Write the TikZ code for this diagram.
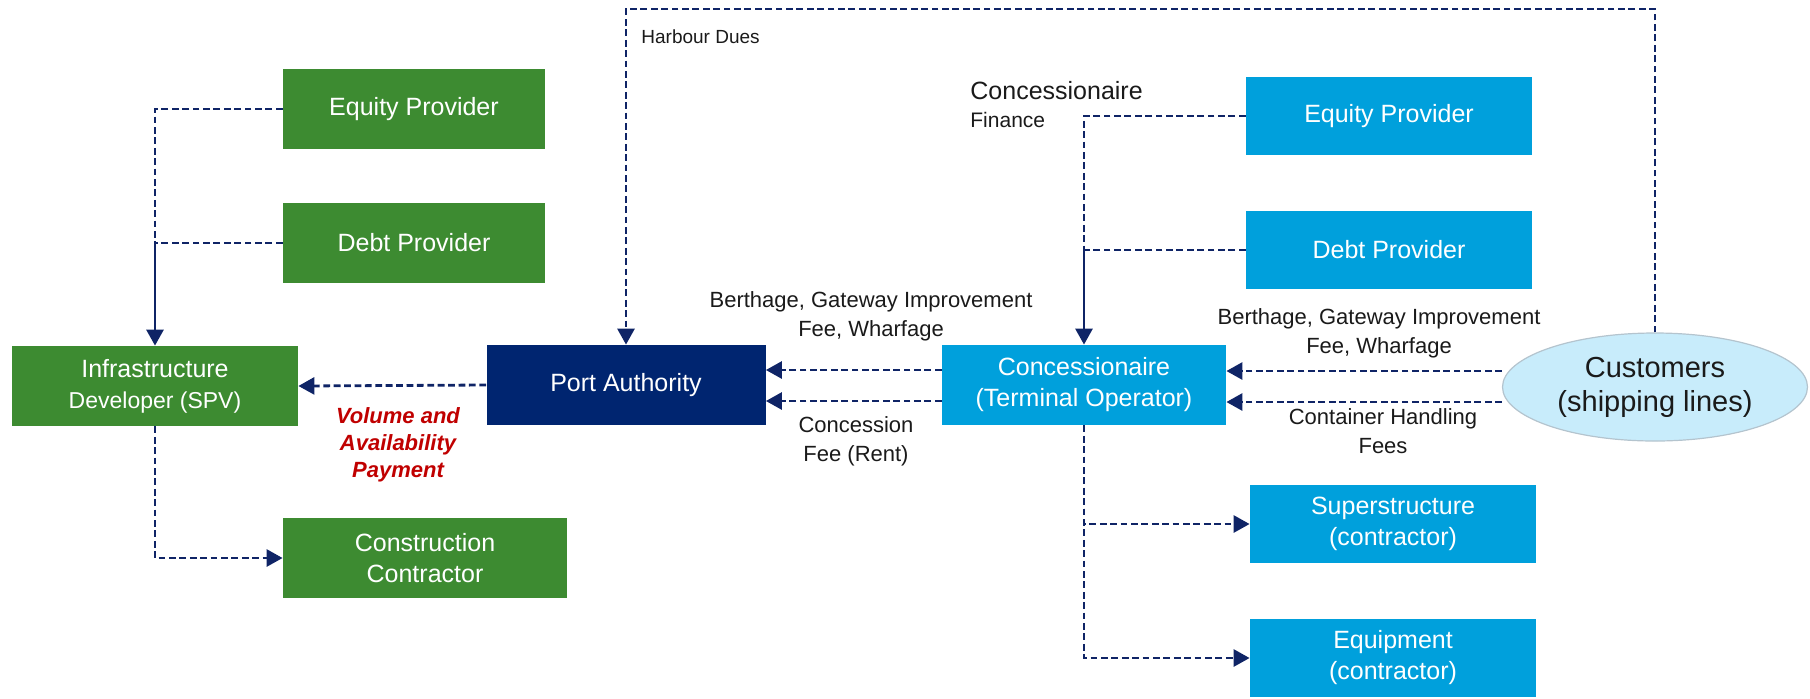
\documentclass[tikz,border=0pt]{standalone}
\usepackage{fontspec}
\setmainfont{Liberation Sans}
\usetikzlibrary{arrows.meta,calc,shapes.geometric}
\definecolor{pgreen}{HTML}{3D8B31}
\definecolor{pnavy}{HTML}{002570}
\definecolor{pblue}{HTML}{00A0DC}
\definecolor{pcust}{HTML}{C8ECFB}
\definecolor{pcustline}{HTML}{B4C4CE}
\definecolor{pline}{HTML}{0F2466}
\definecolor{pred}{HTML}{C00000}
\definecolor{ptext}{HTML}{1A1A1A}
\begin{document}
\begin{tikzpicture}[x=0.5pt,y=-0.5pt,
  box/.style={rectangle, inner sep=0pt, align=center, text=white,
    font=\fontsize{12.5}{15.5}\selectfont, minimum height=40pt},
  gbox/.style={box, fill=pgreen},
  bbox/.style={box, fill=pblue, minimum width=143pt, minimum height=39pt},
  lbl/.style={text=ptext, align=center, inner sep=0pt,
    font=\fontsize{11}{14.5}\selectfont},
  flow/.style={draw=pline, line width=1.4pt, dash pattern=on 3.4pt off 1.8pt},
  solidflow/.style={draw=pline, line width=1.4pt},
  tip/.style={-{Triangle[length=8pt,width=8.5pt]}}
]
\useasboundingbox (0,0) rectangle (1810,698);

% infrastructure side
\node[gbox, minimum width=131pt] (leq) at (414,109) {Equity Provider};
\node[gbox, minimum width=131pt] (ldebt) at (414,243) {Debt Provider};
\node[gbox, minimum width=143pt] (infra) at (155,386)
  {Infrastructure\\{\fontsize{11.5}{15}\selectfont Developer (SPV)}};
\node[gbox, minimum width=142pt] (constr) at (425,558) {Construction\\Contractor};
\node[box, fill=pnavy, minimum width=139.5pt] (pa) at (626,385) {Port Authority};

% terminal side
\node[box, fill=pblue, minimum width=142pt] (conc) at (1084,385)
  {Concessionaire\\(Terminal Operator)};
\node[bbox] (req) at (1389,116) {Equity Provider};
\node[bbox] (rdebt) at (1389,250) {Debt Provider};
\node[bbox] (super) at (1393,524) {Superstructure\\(contractor)};
\node[bbox] (equip) at (1393,658) {Equipment\\(contractor)};
\node[ellipse, fill=pcust, draw=pcustline, line width=0.6pt, inner sep=0pt,
  minimum width=152.5pt, minimum height=54pt, align=center, text=ptext,
  font=\fontsize{14.5}{17}\selectfont] (cust) at (1655,387)
  {Customers\\(shipping lines)};

% infrastructure finance and construction
\coordinate (lj) at (infra.north |- ldebt.west);
\draw[flow] (leq.west) -| (lj);
\draw[flow] (ldebt.west) -- (lj);
\draw[solidflow, tip] (lj) -- (infra.north);
\draw[flow, tip] (infra.south) |- (constr.west);
\draw[flow, tip] (pa.west) -- (infra.east);

% harbour dues
\coordinate (top) at (0,9);
\draw[flow, tip] (cust.north) -- (cust.north |- top) -- (pa.north |- top) -- (pa.north);

% payments to the port authority
\draw[flow, tip] ([yshift=7.5pt]conc.west) -- ([yshift=7.5pt]pa.east);
\draw[flow, tip] ([yshift=-8pt]conc.west) -- ([yshift=-8pt]pa.east);

% payments from customers
\draw[flow, tip] ([yshift=8pt]cust.west) -- ([yshift=8pt]cust.west -| conc.east);
\draw[flow, tip] ([yshift=-7.5pt]cust.west) -- ([yshift=-7.5pt]cust.west -| conc.east);

% concessionaire finance and contracts
\coordinate (rj) at (conc.north |- rdebt.west);
\draw[flow] (req.west) -| (rj);
\draw[flow] (rdebt.west) -- (rj);
\draw[solidflow, tip] (rj) -- (conc.north);
\draw[flow, tip] (conc.south) |- (super.west);
\draw[flow, tip] (conc.south) |- (equip.west);

% labels
\node[lbl, anchor=west, font=\fontsize{9.5}{12}\selectfont] (hd) at (641,37) {Harbour Dues};
\node[text=pred, align=center, inner sep=0pt,
  font=\fontsize{11}{13.5}\selectfont\bfseries\itshape] (vap) at (398,445)
  {Volume and\\Availability\\Payment};
\node[lbl] (bgl) at (871,316) {Berthage, Gateway Improvement\\Fee, Wharfage};
\node[lbl] (cfee) at (856,441) {Concession\\Fee (Rent)};
\node[lbl, anchor=west, font=\fontsize{12.5}{15}\selectfont] (cfa) at (970,91) {Concessionaire};
\node[lbl, anchor=west, font=\fontsize{10.5}{13}\selectfont] (cfb) at (970,120) {Finance};
\node[lbl] (bgr) at (1379,333) {Berthage, Gateway Improvement\\Fee, Wharfage};
\node[lbl] (chf) at (1383,431) {Container Handling\\Fees};
\end{tikzpicture}
\end{document}
